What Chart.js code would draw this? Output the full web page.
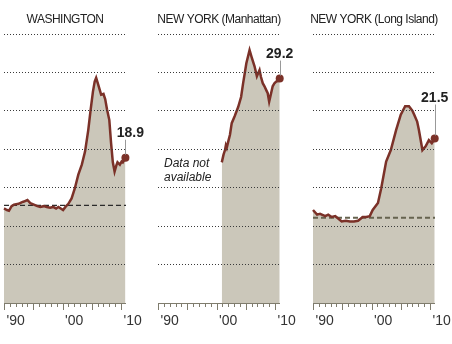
<!DOCTYPE html>
<html>
<head>
<meta charset="utf-8">
<script src="https://cdn.jsdelivr.net/npm/chart.js@4.4.1/dist/chart.umd.min.js"></script>
<style>
  html, body { margin: 0; padding: 0; background: #fff; }
  #wrap { position: relative; width: 452px; height: 344px; overflow: hidden; }
  canvas { position: absolute; top: 0; }
</style>
</head>
<body>
<div id="wrap">
  <canvas id="p0" width="150" height="344" style="left:0px"></canvas>
  <canvas id="p1" width="150" height="344" style="left:154px"></canvas>
  <canvas id="p2" width="150" height="344" style="left:302px"></canvas>
</div>
<script>
// values (years as decimals)
var cities = ['WASHINGTON', 'NEW YORK (Manhattan)', 'NEW YORK (Long Island)'];
var endLabels = ['18.9', '29.2', '21.5'];
var baselines = [12.7, null, 11.1];
var tickYears = [1990, 2000, 2010];
var tickLabels = ["'90", "'00", "'10"];

var waYears = [1988.0, 1988.5, 1988.85, 1989.3, 1989.7, 1990.5, 1991.0, 1991.4, 1992.0, 1992.5,
  1993.1, 1993.7, 1994.2, 1994.8, 1995.3, 1995.9, 1996.4, 1996.9, 1997.3, 1997.7,
  1998.1, 1998.5, 1999.0, 1999.55, 2000.1, 2000.7, 2001.3, 2001.85, 2002.4, 2002.8,
  2003.2, 2003.5, 2003.75, 2004.1, 2004.6, 2005.0, 2005.3, 2005.6, 2006.0, 2006.3,
  2006.6, 2006.9, 2007.2, 2007.4, 2007.8, 2008.1, 2008.3, 2008.75];
var waValues = [12.3, 12.1, 12.0, 12.6, 12.8, 12.9, 13.1, 13.2, 13.4, 13.0,
  12.8, 12.6, 12.5, 12.6, 12.5, 12.4, 12.5, 12.3, 12.5, 12.3,
  12.1, 12.5, 12.9, 13.6, 14.9, 16.7, 18.0, 19.7, 22.5, 25.1,
  27.5, 28.8, 29.3, 28.4, 27.1, 27.2, 26.5, 25.2, 23.8, 20.8,
  18.3, 17.1, 17.9, 18.3, 18.0, 18.4, 18.3, 18.9];

var nyYears = [1998.9, 1999.2, 1999.45, 1999.6, 1999.75, 2000.0, 2000.3, 2000.6, 2001.1, 2001.7,
  2002.2, 2002.55, 2003.1, 2003.65, 2004.0, 2004.5, 2004.9, 2005.35, 2005.6, 2005.9,
  2006.2, 2006.5, 2006.75, 2007.0, 2007.3, 2007.6, 2007.9, 2008.2, 2008.5, 2008.8];
var nyValues = [18.3, 19.3, 19.9, 20.5, 20.2, 21.0, 21.9, 23.4, 24.3, 25.5,
  26.8, 28.6, 31.2, 32.9, 32.0, 30.8, 29.5, 30.3, 29.4, 28.6,
  28.2, 27.7, 27.3, 26.2, 27.2, 28.2, 28.6, 28.8, 28.9, 29.2];

var liYears = [1988.0, 1988.7, 1989.2, 1990.1, 1990.6, 1991.2, 1991.8, 1992.3, 1992.9, 1993.6,
  1994.3, 1995.0, 1995.7, 1996.5, 1997.1, 1997.7, 1998.2, 1999.1, 1999.65, 2000.5,
  2001.3, 2002.2, 2003.0, 2003.75, 2004.4, 2005.0, 2005.3, 2005.8, 2006.1, 2006.7,
  2007.25, 2007.8, 2008.3, 2008.8];
var liValues = [12.1, 11.5, 11.6, 11.3, 11.5, 11.2, 11.3, 11.0, 10.6, 10.7,
  10.6, 10.6, 10.7, 11.2, 11.2, 11.3, 12.1, 13.0, 14.9, 18.4,
  19.9, 22.5, 24.5, 25.6, 25.6, 25.0, 24.5, 23.6, 22.5, 19.9,
  20.4, 21.2, 20.8, 21.4];

var allYears = [waYears, nyYears, liYears];
var allValues = [waValues, nyValues, liValues];

// layout
var RED = '#7b3128';
var FILL = '#cbc7ba';
var padLeft = [3, 3, 11];
var padRight = [24, 24, 17];
var labelRise = [21, 21, 37];
var labelShift = [5, 0, 0];
var dashColor = ['#2b2b2b', null, '#66634f'];
var dashWidth = [1.3, 0, 2];

function deco(i) {
  return {
    id: 'deco' + i,
    afterDraw: function (chart) {
      var c = chart.ctx, a = chart.chartArea;
      var xs = chart.scales.x, ys = chart.scales.y;
      c.save();

      // title
      c.fillStyle = '#222';
      c.font = '12px "Liberation Sans", Arial, sans-serif';
      c.letterSpacing = '-0.5px';
      c.textAlign = 'center';
      c.textBaseline = 'alphabetic';
      c.fillText(cities[i], (a.left + a.right) / 2, 23);
      c.letterSpacing = '0px';

      // x axis with year ticks
      c.strokeStyle = '#7f7c6d';
      c.lineWidth = 1;
      c.beginPath();
      c.moveTo(a.left, a.bottom + 0.5);
      c.lineTo(a.right, a.bottom + 0.5);
      for (var y = 1988; y <= 2008; y++) {
        var tx = Math.round(xs.getPixelForValue(y)) + 0.5;
        c.moveTo(tx, a.bottom);
        c.lineTo(tx, a.bottom + ((y - 1988) % 5 === 0 ? 7 : 4));
      }
      c.stroke();

      c.fillStyle = '#333';
      c.font = '14px "Liberation Sans", Arial, sans-serif';
      for (var k = 0; k < tickYears.length; k++) {
        c.fillText(tickLabels[k], xs.getPixelForValue(tickYears[k]), 325);
      }

      // end value label
      var yrs = allYears[i], vals = allValues[i];
      var n = yrs.length - 1;
      var px = xs.getPixelForValue(yrs[n]);
      var py = ys.getPixelForValue(vals[n]);
      var base = py - labelRise[i];
      c.strokeStyle = '#999';
      c.beginPath();
      c.moveTo(Math.round(px) + 0.5, base + 3);
      c.lineTo(Math.round(px) + 0.5, py - 3);
      c.stroke();
      c.fillStyle = '#222';
      c.font = 'bold 14px "Liberation Sans", Arial, sans-serif';
      c.fillText(endLabels[i], px + labelShift[i], base);

      if (i === 1) {
        c.fillStyle = '#222';
        c.font = 'italic 12px "Liberation Sans", Arial, sans-serif';
        c.textAlign = 'left';
        c.fillText('Data not', a.left + 6, 167);
        c.fillText('available', a.left + 6, 181);
      }
      c.restore();
    }
  };
}

for (var i = 0; i < 3; i++) {
  var pts = allYears[i].map(function (yr, j) { return { x: yr, y: allValues[i][j] }; });
  var datasets = [{
    data: pts,
    borderColor: RED,
    borderWidth: 2.5,
    backgroundColor: FILL,
    fill: 'origin',
    tension: 0,
    clip: false,
    pointRadius: function (ctx) { return ctx.dataIndex === ctx.dataset.data.length - 1 ? 4 : 0; },
    pointBackgroundColor: RED,
    pointBorderWidth: 0
  }];
  if (baselines[i] !== null) {
    datasets.push({
      data: [{ x: 1988, y: baselines[i] }, { x: 2008.85, y: baselines[i] }],
      borderColor: dashColor[i],
      borderWidth: dashWidth[i],
      borderDash: [5, 3],
      pointRadius: 0,
      fill: false
    });
  }
  new Chart(document.getElementById('p' + i), {
    type: 'line',
    data: { datasets: datasets },
    options: {
      responsive: false,
      animation: false,
      events: [],
      layout: { padding: { left: padLeft[i], right: padRight[i], top: 34, bottom: 41 } },
      plugins: {
        legend: { display: false },
        tooltip: { enabled: false },
        filler: { drawTime: 'beforeDatasetsDraw' }
      },
      scales: {
        x: { type: 'linear', min: 1988, max: 2008.85, display: false },
        y: {
          min: 0, max: 35,
          ticks: { stepSize: 5, display: false },
          border: { display: false, dash: [1, 2] },
          grid: {
            drawTicks: false,
            z: 1,
            lineWidth: 1,
            color: function (ctx) { return ctx.tick && ctx.tick.value === 0 ? 'rgba(0,0,0,0)' : '#3a3a3a'; }
          },
          afterFit: function (s) { s.width = 0; }
        }
      }
    },
    plugins: [deco(i)]
  });
}
</script>
</body>
</html>
